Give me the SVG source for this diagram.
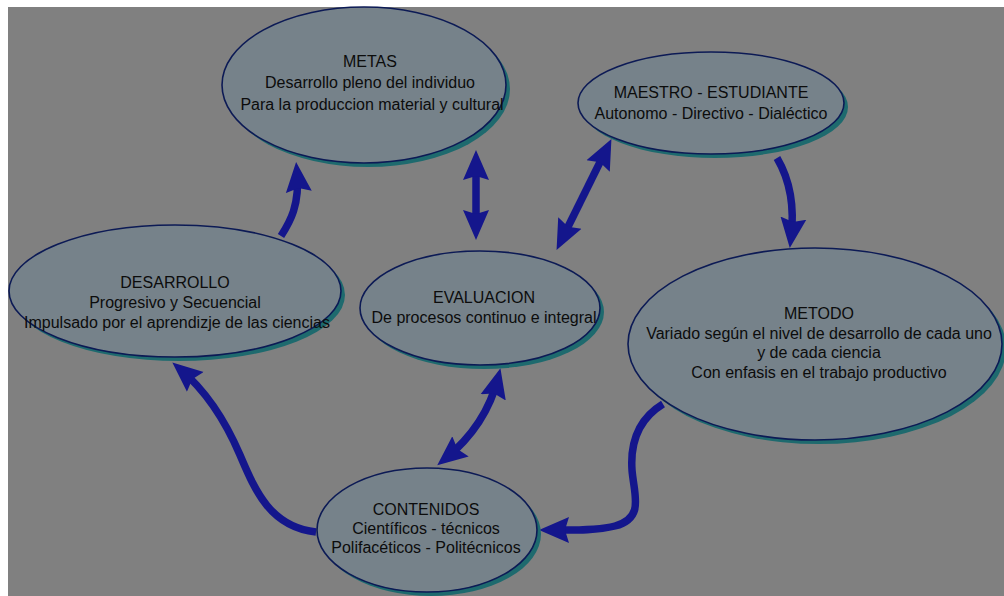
<svg xmlns="http://www.w3.org/2000/svg" width="1004" height="596" viewBox="0 0 1004 596">
<style>
.bg{fill:#808080}
.sh{fill:#1e6a6e}
.el{fill:#76828a;stroke:#0c1a55;stroke-width:1.6}
.t{font-family:"Liberation Sans",Arial,sans-serif;font-size:16px;fill:#0c0c0c;text-anchor:middle}
.c{fill:none;stroke:#14168c;stroke-width:7.5;stroke-linecap:butt}
</style>
<defs>
<marker id="ah" markerUnits="userSpaceOnUse" markerWidth="32" markerHeight="30" viewBox="0 0 32 30" refX="20" refY="15" orient="auto-start-reverse">
<path d="M0,2 L30,15 L0,28 L4,15 Z" fill="#14168c"/>
</marker>
</defs>
<rect x="0" y="0" width="1004" height="596" fill="#ffffff"/>
<rect class="bg" x="8" y="7" width="996" height="589"/>
<g id="connectors">
<path class="c" d="M281,236 C290,222 300,205 297,172" marker-end="url(#ah)"/>
<path class="c" d="M476,160 L476,230" marker-start="url(#ah)" marker-end="url(#ah)"/>
<path class="c" d="M561,241 L607,148" marker-start="url(#ah)" marker-end="url(#ah)"/>
<path class="c" d="M777,158 C790,180 795,205 791,238" marker-end="url(#ah)"/>
<path class="c" d="M663,404 C640,418 630,440 632,470 C634,495 645,518 615,526 C595,531 570,530 549,530" marker-end="url(#ah)"/>
<path class="c" d="M316,532 C270,527 255,490 240,455 C225,420 205,390 180,369" marker-end="url(#ah)"/>
<path class="c" d="M445,459 C472,437 490,410 498,378" marker-start="url(#ah)" marker-end="url(#ah)"/>
</g>
<g id="metas">
<ellipse class="sh" cx="368" cy="89" rx="142" ry="78"/>
<ellipse class="el" cx="364" cy="85" rx="142" ry="78"/>
<text class="t" x="370" y="67">METAS</text>
<text class="t" x="370" y="88">Desarrollo pleno del individuo</text>
<text class="t" x="372" y="110">Para la produccion material y cultural</text>
</g>
<g id="maestro">
<ellipse class="sh" cx="715" cy="107" rx="133" ry="51"/>
<ellipse class="el" cx="711" cy="103" rx="133" ry="51"/>
<text class="t" x="711" y="98">MAESTRO - ESTUDIANTE</text>
<text class="t" x="711" y="119">Autonomo - Directivo - Dialéctico</text>
</g>
<g id="desarrollo">
<ellipse class="sh" cx="179" cy="295" rx="166" ry="66"/>
<ellipse class="el" cx="175" cy="291" rx="166" ry="66"/>
<text class="t" x="175" y="288">DESARROLLO</text>
<text class="t" x="175" y="308">Progresivo y Secuencial</text>
<text class="t" x="177" y="328">Impulsado por el aprendizje de las ciencias</text>
</g>
<g id="evaluacion">
<ellipse class="sh" cx="484" cy="312" rx="120" ry="57"/>
<ellipse class="el" cx="480" cy="308" rx="120" ry="57"/>
<text class="t" x="484" y="303">EVALUACION</text>
<text class="t" x="484" y="323">De procesos continuo e integral</text>
</g>
<g id="metodo">
<ellipse class="sh" cx="819" cy="348" rx="187" ry="96"/>
<ellipse class="el" cx="815" cy="344" rx="187" ry="96"/>
<text class="t" x="819" y="319">METODO</text>
<text class="t" x="819" y="339">Variado según el nivel de desarrollo de cada uno</text>
<text class="t" x="819" y="358">y de cada ciencia</text>
<text class="t" x="819" y="378">Con enfasis en el trabajo productivo</text>
</g>
<g id="contenidos">
<ellipse class="sh" cx="431" cy="534" rx="110" ry="62"/>
<ellipse class="el" cx="427" cy="530" rx="110" ry="62"/>
<text class="t" x="426" y="515">CONTENIDOS</text>
<text class="t" x="426" y="534">Científicos - técnicos</text>
<text class="t" x="426" y="553">Polifacéticos - Politécnicos</text>
</g>
</svg>
